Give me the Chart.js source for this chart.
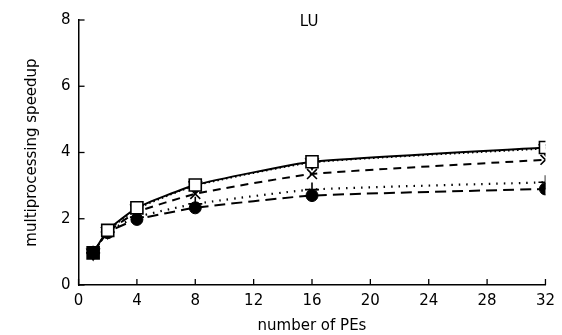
<!DOCTYPE html>
<html>
<head>
<meta charset="utf-8">
<script src="https://cdn.jsdelivr.net/npm/chart.js@4.4.1/dist/chart.umd.min.js"></script>
<style>
html,body{margin:0;padding:0;background:#fff;}
#wrap{width:562px;height:335px;}
</style>
</head>
<body>
<div id="wrap"><canvas id="c" width="562" height="335"></canvas></div>
<script>
const chartTitle = "LU";
const xTitle = "number of PEs";
const yTitle = "multiprocessing speedup";
const pes = [1, 2, 4, 8, 16, 32];
const squares   = [0.97, 1.65, 2.33, 3.02, 3.72, 4.15];
const triangles = [0.97, 1.62, 2.30, 3.00, 3.70, 4.12];
const crosses   = [0.97, 1.60, 2.20, 2.75, 3.35, 3.78];
const pluses    = [0.97, 1.60, 2.05, 2.45, 2.88, 3.10];
const circles   = [0.97, 1.58, 1.98, 2.33, 2.70, 2.90];
const xTicks = [0, 4, 8, 12, 16, 20, 24, 28, 32];
const yTicks = [0, 2, 4, 6, 8];

const FONT = "'DejaVu Sans', 'Liberation Sans', sans-serif";
function pts(arr){ return pes.map((x,i)=>({x:x,y:arr[i]})); }

const inwardTicks = {
  id:'inwardTicks',
  afterDraw(chart){
    const ctx = chart.ctx, xs = chart.scales.x, ys = chart.scales.y;
    ctx.save();
    ctx.strokeStyle = '#000'; ctx.lineWidth = 1.3;
    xTicks.forEach(v=>{
      const px = xs.getPixelForValue(v);
      ctx.beginPath(); ctx.moveTo(px, ys.bottom); ctx.lineTo(px, ys.bottom-6); ctx.stroke();
    });
    yTicks.forEach(v=>{
      const py = ys.getPixelForValue(v);
      ctx.beginPath(); ctx.moveTo(xs.left, py); ctx.lineTo(xs.left+6, py); ctx.stroke();
    });
    ctx.fillStyle = '#000';
    ctx.font = "15px " + FONT;
    ctx.textAlign = 'center'; ctx.textBaseline = 'middle';
    ctx.fillText(chartTitle, xs.getPixelForValue(15.8), ys.getPixelForValue(7.95));
    ctx.restore();
  }
};

new Chart(document.getElementById('c'), {
  type:'line',
  data:{
    datasets:[
      {label:'squares', data:pts(squares), borderColor:'#000', borderWidth:2,
       pointStyle:'rect', pointRadius:8.5, pointBackgroundColor:['#000','#fff','#fff','#fff','#fff','#fff'],
       pointBorderColor:'#000', pointBorderWidth:1.6, tension:0.15},
      {label:'triangles', data:pts(triangles), borderColor:'#000', borderWidth:1.8, borderDash:[1.5,3],
       pointStyle:'triangle', rotation:180, pointRadius:7, pointBackgroundColor:'#fff',
       pointBorderColor:'#000', pointBorderWidth:1.6, tension:0.15},
      {label:'crosses', data:pts(crosses), borderColor:'#000', borderWidth:2, borderDash:[8,6],
       pointStyle:'crossRot', pointRadius:7, pointBorderColor:'#000', pointBorderWidth:1.6, tension:0.15},
      {label:'pluses', data:pts(pluses), borderColor:'#000', borderWidth:2.2, borderDash:[1.5,6],
       pointStyle:'cross', pointRadius:7, pointBorderColor:'#000', pointBorderWidth:1.6, tension:0.15},
      {label:'circles', data:pts(circles), borderColor:'#000', borderWidth:2, borderDash:[11,6],
       pointStyle:'circle', pointRadius:6, pointBackgroundColor:'#000',
       pointBorderColor:'#000', pointBorderWidth:1, tension:0.15}
    ]
  },
  options:{
    responsive:false, animation:false,
    layout:{padding:{left:23, right:12, top:20, bottom:0}},
    plugins:{legend:{display:false}, tooltip:{enabled:false}, title:{display:false}},
    scales:{
      x:{type:'linear', min:0, max:32,
         afterBuildTicks(s){ s.ticks = xTicks.map(v=>({value:v})); },
         grid:{display:false, drawTicks:false},
         border:{display:true, color:'#000', width:1.5},
         ticks:{color:'#000', font:{family:FONT, size:15}, padding:7},
         title:{display:true, text:xTitle, color:'#000', font:{family:FONT, size:15}, padding:{top:0, bottom:0}}},
      y:{type:'linear', min:0, max:8,
         afterBuildTicks(s){ s.ticks = yTicks.map(v=>({value:v})); },
         grid:{display:false, drawTicks:false},
         border:{display:true, color:'#000', width:1.5},
         ticks:{color:'#000', font:{family:FONT, size:15}, padding:8},
         title:{display:true, text:yTitle, color:'#000', font:{family:FONT, size:15}, padding:{top:0, bottom:12}}}
    }
  },
  plugins:[inwardTicks]
});
</script>
</body>
</html>
